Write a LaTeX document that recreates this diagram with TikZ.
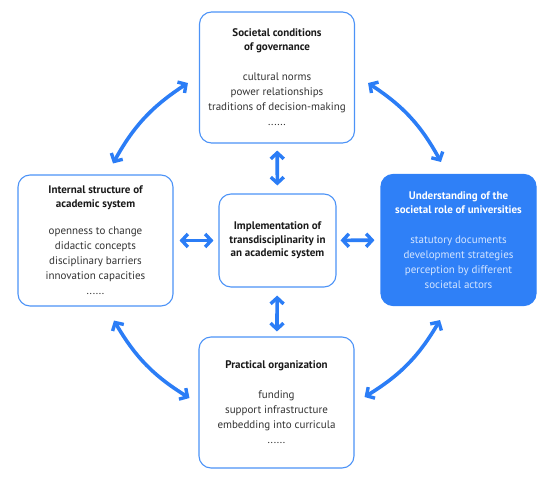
\documentclass[tikz,border=0pt]{standalone}
\usepackage{fontspec}
\setmainfont{PT Sans}
\usetikzlibrary{arrows.meta}
\definecolor{arrowblue}{HTML}{2B7DF6}
\definecolor{boxline}{HTML}{4C93F7}
\definecolor{boxfill}{HTML}{2F80F7}
\definecolor{titletext}{HTML}{1A1A1A}
\definecolor{itemtext}{HTML}{333333}
\definecolor{lighttext}{HTML}{D4E5FF}
\tikzset{
  panel/.style={draw=boxline, line width=1.1pt, rounded corners=12pt, fill=white,
    minimum width=155pt, minimum height=131pt, align=center, inner sep=0pt,
    font=\fontsize{11}{15}\selectfont, text=itemtext},
  centerpanel/.style={panel, minimum width=117pt, minimum height=93pt},
  filledpanel/.style={panel, fill=boxfill, draw=boxfill, text=lighttext},
  link/.style={draw=arrowblue, line width=3.6pt,
    {Straight Barb[length=6pt,width=13pt,line width=3.4pt]}-{Straight Barb[length=6pt,width=13pt,line width=3.4pt]},
    line cap=round, line join=round},
}
\newcommand{\ttl}[1]{{\bfseries\color{titletext}#1}}
\newcommand{\wttl}[1]{{\bfseries\color{white}#1}}
\begin{document}
\begin{tikzpicture}[x=1pt,y=-1pt]
\useasboundingbox (0,0) rectangle (550,482);
\node[panel] (top) at (277,77.5) {\ttl{Societal conditions}\\[-1pt]\ttl{of governance}\\[15pt]cultural norms\\power relationships\\traditions of decision-making\\......};
\node[panel] (left) at (95.5,240.5) {\ttl{Internal structure of}\\[-1pt]\ttl{academic system}\\[12pt]openness to change\\didactic concepts\\disciplinary barriers\\innovation capacities\\......};
\node[filledpanel] (right) at (458.5,240) {\wttl{Understanding of the}\\[-1pt]\wttl{societal role of universities}\\[15pt]statutory documents\\development strategies\\perception by different\\societal actors};
\node[centerpanel] (center) at (277.5,240.5) {\ttl{Implementation of}\\[-1.5pt]\ttl{transdisciplinarity in}\\[-1.5pt]\ttl{an academic system}};
\node[panel] (bottom) at (276.5,402.5) {\ttl{Practical organization}\\[15pt]funding\\support infrastructure\\embedding into curricula\\......};

\draw[link, shorten <=7pt, shorten >=8pt] (top) -- (center);
\draw[link, shorten <=8pt, shorten >=5pt] (center) -- (bottom);
\draw[link, shorten <=6pt, shorten >=5pt] (left) -- (center);
\draw[link, shorten <=4pt, shorten >=6pt] (center) -- (right);

\draw[link] ([xshift=17.5pt,yshift=11pt]left.north) to[bend left=14] ([xshift=-11pt,yshift=-5.5pt]top.west);
\draw[link] ([xshift=13pt,yshift=-5.5pt]top.east) to[bend left=14] ([xshift=-17.5pt,yshift=12pt]right.north);
\draw[link] ([xshift=-18.5pt,yshift=-14pt]right.south) to[bend left=14] ([xshift=10pt,yshift=5.5pt]bottom.east);
\draw[link] ([xshift=-9pt,yshift=4.5pt]bottom.west) to[bend left=14] ([xshift=18.5pt,yshift=-14pt]left.south);
\end{tikzpicture}
\end{document}
